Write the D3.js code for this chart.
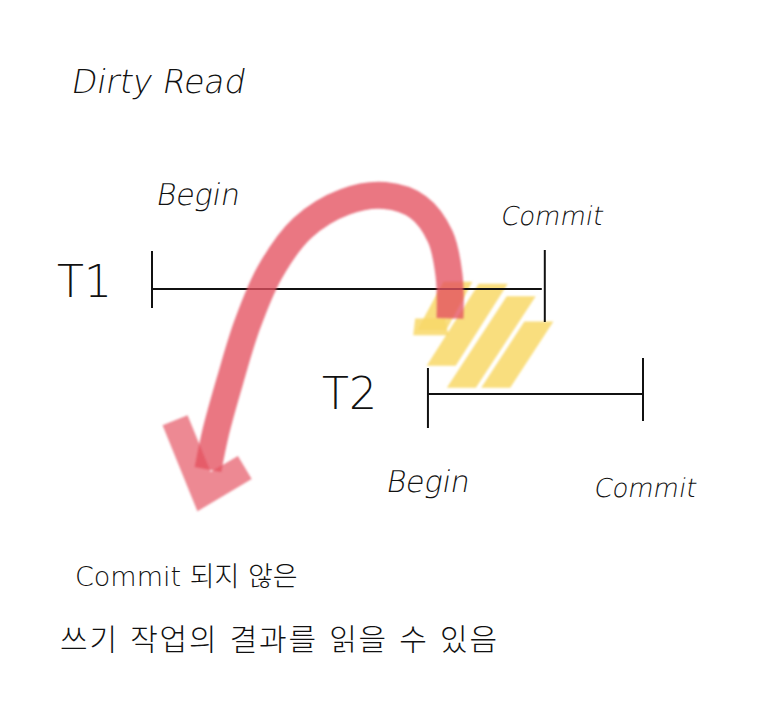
<!DOCTYPE html>
<html>
<head>
<meta charset="utf-8">
<script src="https://cdn.jsdelivr.net/npm/d3@7"></script>
<style>
  html, body { margin: 0; padding: 0; background: #fff; }
  svg { display: block; }
  text { font-family: "DejaVu Sans", "Noto Sans CJK KR", sans-serif; fill: #111; }
</style>
</head>
<body>
<svg id="chart" width="778" height="716"></svg>
<script>
// ---------- data ----------
const title = "Dirty Read";
const transactions = ["T1", "T2"];          // rows
const beginTimes   = [0, 56.2];             // time of Begin
const commitTimes  = [80, 100];             // time of Commit
const eventLabels  = ["Begin", "Commit"];
const noteLines    = ["Commit 되지 않은", "쓰기 작업의 결과를 읽을 수 있음"];

// annotation: red "read" arrow, in (time, row) units
const arrowTime = [60.7, 60.5, 58.7, 54.2, 47.4, 39.3, 30.6, 24.0, 19.4, 15.9, 13.0, 11.4];
const arrowRow  = [0.28, -0.13, -0.50, -0.78, -0.89, -0.83, -0.58, -0.16, 0.34, 0.87, 1.36, 1.72];
const arrowHeadTime = [4.7, 10.6, 18.9];
const arrowHeadRow  = [1.25, 1.93, 1.70];

// annotation: yellow hatching of the uncommitted write (top -> bottom)
const hatchTopTime    = [62.3, 69.5, 75.2, 78.8];
const hatchTopRow     = [-0.07, -0.05, 0.07, 0.31];
const hatchBottomTime = [57.0, 58.9, 63.0, 70.0];
const hatchBottomRow  = [0.39, 0.73, 0.94, 0.94];

// ---------- scales ----------
const svg = d3.select("#chart");
const x = d3.scaleLinear().domain([0, 100]).range([152, 643]);
const y = d3.scaleLinear().domain([0, 1]).range([289, 394]);

const defs = svg.append("defs");
defs.append("filter").attr("id", "soft").attr("x", "-20%").attr("y", "-20%").attr("width", "140%").attr("height", "140%")
  .append("feGaussianBlur").attr("stdDeviation", 1.3);

// ---------- yellow hatching ----------
const hatchG = svg.append("g").attr("filter", "url(#soft)");
const hw = 14.5;
const poly = pts => pts.map(p => p.join(",")).join(" ");
hatchTopTime.forEach((t, i) => {
  const xt = x(t), yt = y(hatchTopRow[i]);
  const xb = x(hatchBottomTime[i]), yb = y(hatchBottomRow[i]);
  hatchG.append("polygon")
    .attr("points", poly([[xt - hw, yt], [xt + hw, yt], [xb + hw, yb], [xb - hw, yb]]))
    .attr("fill", "#f8d868")
    .attr("fill-opacity", 0.85);
});
hatchG.append("polygon")
  .attr("points", poly([[x(53.6), y(0.28)], [x(59.6), y(0.28)], [x(60.4), y(0.44)], [x(53.2), y(0.44)]]))
  .attr("fill", "#f8d868").attr("fill-opacity", 0.85);

// ---------- timelines ----------
const tickExt = [[-38, 19, -39, 33], [-26, 34, -36, 27]];
const lines = svg.append("g").attr("stroke", "#111").attr("stroke-width", 2).attr("fill", "none");
transactions.forEach((tr, i) => {
  const yy = y(i);
  lines.append("line").attr("x1", x(beginTimes[i])).attr("x2", x(commitTimes[i]) - (i === 0 ? 3 : 0))
    .attr("y1", yy).attr("y2", yy);
  lines.append("line").attr("x1", x(beginTimes[i])).attr("x2", x(beginTimes[i]))
    .attr("y1", yy + tickExt[i][0]).attr("y2", yy + tickExt[i][1]);
  lines.append("line").attr("x1", x(commitTimes[i])).attr("x2", x(commitTimes[i]))
    .attr("y1", yy + tickExt[i][2]).attr("y2", yy + tickExt[i][3]);
});

// ---------- red arrow ----------
const arrowG = svg.append("g").attr("filter", "url(#soft)");
const arrowLine = d3.line().x(d => x(d[0])).y(d => y(d[1])).curve(d3.curveCatmullRom.alpha(0.5));
arrowG.append("path")
  .attr("d", arrowLine(arrowTime.map((t, i) => [t, arrowRow[i]])))
  .attr("fill", "none")
  .attr("stroke", "#e4505f")
  .attr("stroke-opacity", 0.78)
  .attr("stroke-width", 27)
  .attr("stroke-linecap", "butt");
const headLine = d3.line().x(d => x(d[0])).y(d => y(d[1]));
arrowG.append("path")
  .attr("d", headLine(arrowHeadTime.map((t, i) => [t, arrowHeadRow[i]])))
  .attr("fill", "none")
  .attr("stroke", "#e4505f")
  .attr("stroke-opacity", 0.68)
  .attr("stroke-width", 27)
  .attr("stroke-linejoin", "miter")
  .attr("stroke-linecap", "butt");

// ---------- text ----------
function handText(px, py, size, str, weight) {
  svg.append("text")
    .attr("transform", `translate(${px},${py}) skewX(-10)`)
    .attr("font-size", size)
    .attr("font-weight", weight || 200)
    .text(str);
}

handText(70, 93, 33, title);

const rowLabelX = [57, 322];
transactions.forEach((tr, i) => {
  svg.append("text").attr("x", rowLabelX[i]).attr("y", y(i) + (i === 0 ? 8 : 15))
    .attr("font-size", 44).attr("font-weight", 200).text(tr);
});

// event labels: T1 above the line, T2 below
const evPos = [
  [[3, -84], [-45, -64]],
  [[-43, 98], [-50, 103]]
];
transactions.forEach((tr, i) => {
  [beginTimes[i], commitTimes[i]].forEach((t, j) => {
    handText(x(t) + evPos[i][j][0], y(i) + evPos[i][j][1], j === 0 ? 30 : 26, eventLabels[j]);
  });
});

const noteX = [75, 60];
const noteY = [586, 650];
const noteSize = [27, 30];
const noteSpacing = [0, 1.8];
noteLines.forEach((s, i) => {
  svg.append("text").attr("x", noteX[i]).attr("y", noteY[i])
    .attr("font-size", noteSize[i]).attr("font-weight", 300)
    .attr("letter-spacing", noteSpacing[i]).text(s);
});
</script>
</body>
</html>
